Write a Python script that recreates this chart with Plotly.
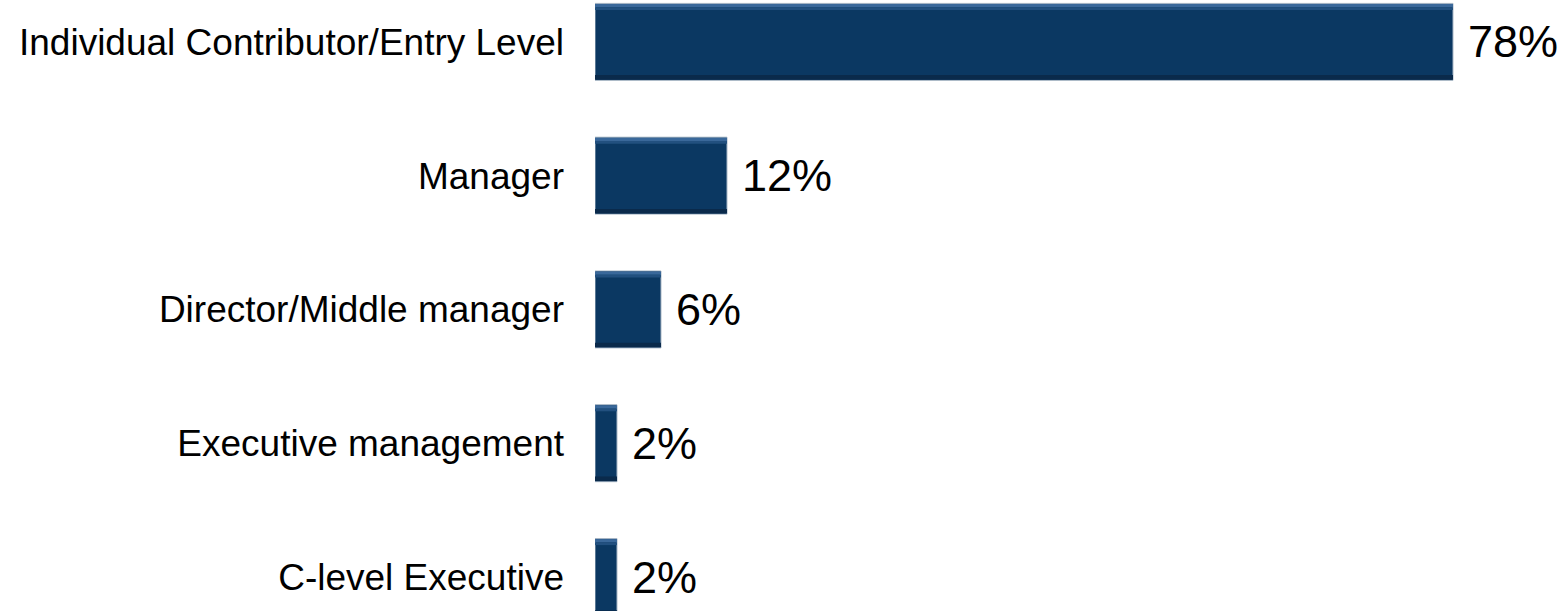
import plotly.graph_objects as go

categories = ["Individual Contributor/Entry Level", "Manager", "Director/Middle manager",
              "Executive management", "C-level Executive"]
values = [78, 12, 6, 2, 2]
value_labels = [f"{v}%" for v in values]

MAIN = "#0b3862"
TOP = "#3a689a"
TOP2 = "#22507f"
BOTTOM = "#0a2a4b"
EDGE = "#a9b7c6"

BW = 0.575
fig = go.Figure()
fig.add_trace(go.Bar(x=values, y=categories, orientation="h", width=BW, offset=-BW / 2,
                     marker=dict(color=MAIN, line=dict(color=EDGE, width=1)),
                     hoverinfo="skip"))
fig.add_trace(go.Bar(x=values, y=categories, orientation="h", width=0.025, offset=-BW / 2 + 0.004,
                     marker=dict(color=TOP, line=dict(width=0)), hoverinfo="skip"))
fig.add_trace(go.Bar(x=values, y=categories, orientation="h", width=0.02, offset=-BW / 2 + 0.029,
                     marker=dict(color=TOP2, line=dict(width=0)), hoverinfo="skip"))
fig.add_trace(go.Bar(x=values, y=categories, orientation="h", width=0.035, offset=BW / 2 - 0.039,
                     marker=dict(color=BOTTOM, line=dict(width=0)), hoverinfo="skip"))

for v, c, t in zip(values, categories, value_labels):
    fig.add_annotation(x=v, y=c, text=t, showarrow=False, xanchor="left", yanchor="middle",
                       xshift=13, font=dict(family="Liberation Sans, Arial, sans-serif", size=45, color="#000"))

fig.update_layout(
    width=1568, height=611,
    margin=dict(l=595, r=0, t=0, b=0),
    paper_bgcolor="white", plot_bgcolor="white",
    barmode="overlay", showlegend=False,
    font=dict(family="Liberation Sans, Arial, sans-serif", color="#000"),
)
fig.update_xaxes(range=[0, (1568 - 595) / 11], visible=False, showgrid=False, zeroline=False)
fig.update_yaxes(type="category", categoryorder="array", categoryarray=categories,
                 autorange=False, range=[4.254, -0.313], showgrid=False, zeroline=False,
                 showline=False, ticks="", ticklabelstandoff=30, automargin=False,
                 tickfont=dict(size=37, color="#000", family="Liberation Sans, Arial, sans-serif"))

fig.write_html("out.html")
